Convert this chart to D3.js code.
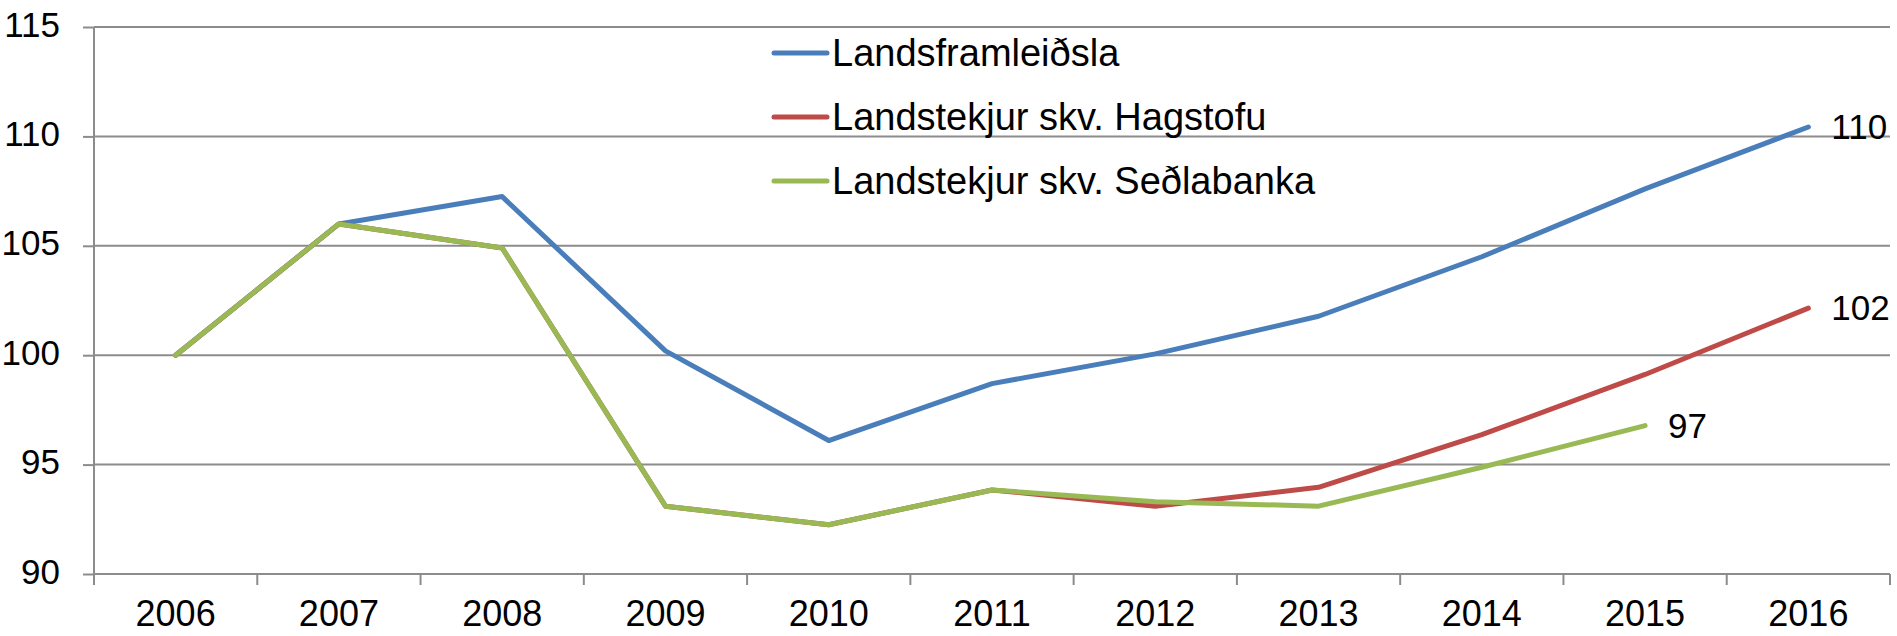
<!DOCTYPE html>
<html>
<head>
<meta charset="utf-8">
<script src="https://cdn.jsdelivr.net/npm/d3@7/dist/d3.min.js"></script>
<style>
  body { margin: 0; background: #fff; }
  svg { display: block; font-family: "Liberation Sans", Arial, sans-serif; }
  .grid line { stroke: #8c8c8c; stroke-width: 2; }
  .axis path, .axis line { stroke: #8c8c8c; stroke-width: 2; }
  .axis text { fill: #000; font-size: 35px; }
</style>
</head>
<body>
<script>
// data
var years = ["2006", "2007", "2008", "2009", "2010", "2011", "2012", "2013", "2014", "2015", "2016"]
var landsframleidsla = [100, 106.0, 107.25, 100.2, 96.1, 98.7, 100.06, 101.78, 104.5, 107.6, 110.43]
var hagstofa = [100, 106.0, 104.9, 93.1, 92.25, 93.84, 93.1, 93.96, 96.37, 99.12, 102.15]
var sedlabanki = [100, 106.0, 104.9, 93.1, 92.25, 93.84, 93.3, 93.1, 94.88, 96.78, null]
var seriesNames = ["Landsframleiðsla", "Landstekjur skv. Hagstofu", "Landstekjur skv. Seðlabanka"]
var seriesColors = ["#4a7ebb", "#be4b48", "#98b954"]
var yTicks = [90, 95, 100, 105, 110, 115]

var width = 1897, height = 636
var margin = { top: 27, right: 7, bottom: 62, left: 94 }
var innerW = width - margin.left - margin.right
var innerH = height - margin.top - margin.bottom

var svg = d3.select("body")
  .append("svg")
  .attr("width", width)
  .attr("height", height)

var g = svg.append("g")
  .attr("transform", "translate(" + margin.left + "," + margin.top + ")")

var x = d3.scaleBand().domain(years).range([0, innerW]).padding(0)
var y = d3.scaleLinear().domain([90, 115]).range([innerH, 0])

// gridlines
g.append("g")
  .attr("class", "grid")
  .selectAll("line")
  .data(yTicks.slice(1))
  .enter()
  .append("line")
  .attr("x1", 0)
  .attr("x2", innerW)
  .attr("y1", function(d) { return y(d) })
  .attr("y2", function(d) { return y(d) })

// y axis
var yAxis = g.append("g")
  .attr("class", "axis")
  .call(d3.axisLeft(y).tickValues(yTicks).tickSize(11).tickPadding(23).tickSizeOuter(0))
yAxis.select(".domain").attr("d", "M0," + y(90) + "V" + y(115))
yAxis.selectAll("text").attr("dy", "0.26em")

// x axis: line, ticks on band edges, labels in band centres
var xAxis = g.append("g")
  .attr("class", "axis")
  .attr("transform", "translate(0," + innerH + ")")

xAxis.append("line")
  .attr("x1", 0).attr("x2", innerW)
  .attr("y1", 0).attr("y2", 0)

var edges = years.map(function(d) { return x(d) }).concat([x(years[years.length - 1]) + x.bandwidth()])
xAxis.selectAll(".xtick")
  .data(edges)
  .enter()
  .append("line")
  .attr("class", "xtick")
  .attr("x1", function(d) { return d })
  .attr("x2", function(d) { return d })
  .attr("y1", 0)
  .attr("y2", 11)

xAxis.selectAll(".xlabel")
  .data(years)
  .enter()
  .append("text")
  .attr("class", "xlabel")
  .attr("x", function(d) { return x(d) + x.bandwidth() / 2 })
  .attr("y", 52)
  .attr("text-anchor", "middle")
  .style("font-size", "36px")
  .text(function(d) { return d })

// lines
var allSeries = [landsframleidsla, hagstofa, sedlabanki]
var line = d3.line()
  .defined(function(d) { return d != null })
  .x(function(d, i) { return x(years[i]) + x.bandwidth() / 2 })
  .y(function(d) { return y(d) })

g.append("g")
  .selectAll("path")
  .data(allSeries)
  .enter()
  .append("path")
  .attr("d", line)
  .attr("fill", "none")
  .attr("stroke", function(d, i) { return seriesColors[i] })
  .attr("stroke-width", 5)
  .attr("stroke-linejoin", "round")
  .attr("stroke-linecap", "round")

// end labels
function lastIndex(d) {
  var last = d.length - 1
  while (d[last] == null) last--
  return last
}

g.append("g")
  .selectAll("text")
  .data(allSeries)
  .enter()
  .append("text")
  .attr("x", function(d) { return x(years[lastIndex(d)]) + x.bandwidth() / 2 + 23 })
  .attr("y", function(d) { return y(d[lastIndex(d)]) })
  .attr("dy", "0.35em")
  .attr("font-size", 35)
  .text(function(d) { return Math.round(d[lastIndex(d)]) })

// legend
var legend = svg.append("g")
  .attr("transform", "translate(774,53)")
  .selectAll("g")
  .data(seriesNames)
  .enter()
  .append("g")
  .attr("transform", function(d, i) { return "translate(0," + (i * 64) + ")" })

legend.append("line")
  .attr("x1", 0).attr("x2", 53)
  .attr("y1", 0).attr("y2", 0)
  .attr("stroke", function(d, i) { return seriesColors[i] })
  .attr("stroke-width", 5)
  .attr("stroke-linecap", "round")

legend.append("text")
  .attr("x", 58)
  .attr("y", 0)
  .attr("dy", "0.35em")
  .attr("font-size", 38)
  .text(function(d) { return d })
</script>
</body>
</html>
